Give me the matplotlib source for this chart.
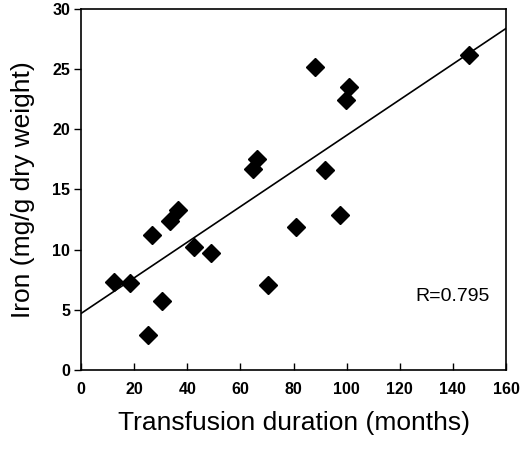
import matplotlib
matplotlib.use('Agg')
import matplotlib.pyplot as plt
import numpy as np

# transfusion duration (months) vs liver iron (mg/g dry weight)
months = [12.5, 18.4, 25.3, 26.6, 30.6, 33.5, 36.6, 42.7, 48.8, 64.9,
          66.4, 70.2, 81.0, 88.1, 100.9, 99.8, 91.9, 97.6, 146.1]
iron = [7.3, 7.25, 2.9, 11.2, 5.7, 12.4, 13.3, 10.25, 9.75, 16.7,
        17.5, 7.1, 11.9, 25.2, 23.5, 22.4, 16.6, 12.85, 26.2]

# regression line
fit_intercept = 4.7
fit_slope = 0.148
r_text = "R=0.795"

x_ticks = list(range(0, 161, 20))
y_ticks = list(range(0, 31, 5))

plt.rcParams['font.family'] = ['Liberation Sans', 'DejaVu Sans']

fig = plt.figure(figsize=(5.2, 4.49), dpi=100)
ax = fig.add_axes([0.156, 0.176, 0.817, 0.804])

line_x = np.array([0, 160])
ax.plot(line_x, fit_intercept + fit_slope * line_x, color='black', lw=1.2)
ax.plot(months, iron, linestyle='none', marker='D', markersize=9.5,
        color='black')

ax.set_xlim(0, 160)
ax.set_ylim(0, 30)
ax.set_xticks(x_ticks)
ax.set_yticks(y_ticks)
ax.tick_params(axis='x', direction='in', length=5, width=1, pad=9,
               labelsize=11.5)
ax.tick_params(axis='y', direction='out', length=5, width=1, pad=3,
               labelsize=11.5)
for lab in ax.get_xticklabels() + ax.get_yticklabels():
    lab.set_fontweight('bold')
for sp in ax.spines.values():
    sp.set_linewidth(1.2)

ax.set_xlabel("Transfusion duration (months)", fontsize=19, labelpad=10)
ax.set_ylabel("Iron (mg/g dry weight)", fontsize=19, labelpad=12)
ax.text(140, 6.1, r_text, fontsize=14, ha='center', va='center')

fig.savefig("out.png", dpi=100)
